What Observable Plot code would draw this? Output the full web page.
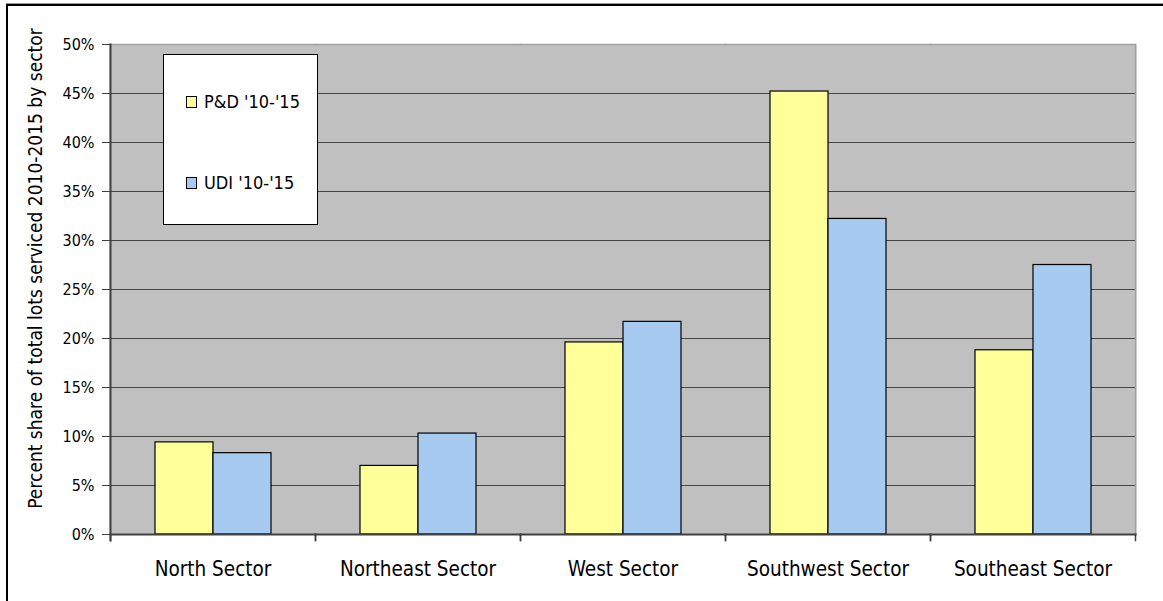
<!DOCTYPE html>
<html>
<head>
<meta charset="utf-8">
<script src="https://cdn.jsdelivr.net/npm/d3@7"></script>
<script src="https://cdn.jsdelivr.net/npm/@observablehq/plot@0.6"></script>
<style>
  html, body { margin: 0; padding: 0; background: #fff; }
  #wrap { position: relative; width: 1163px; height: 601px; overflow: hidden; font-family: "DejaVu Sans Condensed", "DejaVu Sans", sans-serif; }
  #border { position: absolute; left: 6px; top: 4px; width: 3000px; height: 3000px; border-top: 2px solid #000; border-left: 2px solid #000; box-shadow: 0 -1px 0 #999; }
  #chart { position: absolute; left: 0; top: 0; }
  #legend { position: absolute; left: 163px; top: 54px; width: 153px; height: 169px; background: #fff; border: 1px solid #000; }
  .item { position: absolute; left: 22px; display: flex; align-items: center; font-size: 18px; color: #000; white-space: nowrap; }
  .sw { width: 9px; height: 10px; border: 1px solid #000; margin-right: 7px; }
</style>
</head>
<body>
<div id="wrap">
  <div id="border"></div>
  <div id="chart"></div>
  <div id="legend"></div>
</div>
<script>
const sectors = ["North Sector", "Northeast Sector", "West Sector", "Southwest Sector", "Southeast Sector"];
const seriesNames = ["P&D '10-'15", "UDI '10-'15"];
const pdValues = [9.4, 7.0, 19.6, 45.2, 18.8];
const udiValues = [8.3, 10.3, 21.7, 32.2, 27.5];
const seriesColors = ["#FFFF99", "#A6CAF0"];
const yTicks = [0, 5, 10, 15, 20, 25, 30, 35, 40, 45, 50];
const gridTicks = [5, 10, 15, 20, 25, 30, 35, 40, 45];
const yLabel = "Percent share of total lots serviced 2010-2015 by sector";

const data = [];
sectors.forEach((s, i) => {
  data.push({sector: s, series: seriesNames[0], value: pdValues[i]});
  data.push({sector: s, series: seriesNames[1], value: udiValues[i]});
});

const first = sectors[0];
const last = sectors[sectors.length - 1];

const chart = Plot.plot({
  width: 1163,
  height: 601,
  marginLeft: 108,
  marginRight: 26,
  marginTop: 44,
  marginBottom: 67,
  style: {fontFamily: "'DejaVu Sans Condensed', 'DejaVu Sans', sans-serif", fontSize: "16px", color: "#000", background: "transparent"},
  fx: {domain: sectors, padding: 0, axis: null},
  x: {domain: seriesNames, paddingInner: 0, paddingOuter: 0.742, axis: null},
  y: {domain: [0, 50], axis: null},
  color: {domain: seriesNames, range: seriesColors},
  marks: [
    Plot.frame({fill: "#C0C0C0", insetLeft: -1, insetRight: -1}),
    Plot.gridY(gridTicks, {stroke: "#454545", strokeOpacity: 1, strokeWidth: 1}),
    Plot.frame({anchor: "top", stroke: "#A0A0A0", strokeWidth: 1.5}),
    Plot.frame({anchor: "right", stroke: "#A0A0A0", strokeWidth: 1.5, fx: () => last}),
    Plot.barY(data, {fx: "sector", x: "series", y: "value", fill: "series", stroke: "#000", strokeWidth: 1.2}),
    Plot.frame({anchor: "bottom", stroke: "#404040", strokeWidth: 2}),
    Plot.frame({anchor: "left", stroke: "#404040", strokeWidth: 2, insetBottom: -6, fx: () => first}),
    Plot.frame({anchor: "left", stroke: "#404040", strokeWidth: 1.5, insetTop: 490, insetBottom: -6}),
    Plot.frame({anchor: "right", stroke: "#404040", strokeWidth: 1.5, insetTop: 490, insetBottom: -6}),
    Plot.axisY({ticks: yTicks, tickFormat: d => d + "%", tickSize: 8, tickPadding: 8, stroke: "#404040", fill: "#000", fontSize: 16, label: null}),
    Plot.text([yLabel], {fx: () => first, frameAnchor: "left", textAnchor: "middle", lineAnchor: "middle", rotate: -90, dx: -75, dy: -21, fontSize: 19, fill: "#000", text: d => d}),
    Plot.axisFx({anchor: "bottom", tickSize: 0, tickPadding: 27, label: null, fill: "#000", fontSize: 20.5})
  ]
});
document.getElementById("chart").appendChild(chart);

const legend = document.getElementById("legend");
const tops = [36, 117];
seriesNames.forEach((name, i) => {
  const item = document.createElement("div");
  item.className = "item";
  item.style.top = tops[i] + "px";
  const sw = document.createElement("div");
  sw.className = "sw";
  sw.style.background = seriesColors[i];
  const label = document.createElement("span");
  label.textContent = name;
  item.appendChild(sw);
  item.appendChild(label);
  legend.appendChild(item);
});
</script>
</body>
</html>
